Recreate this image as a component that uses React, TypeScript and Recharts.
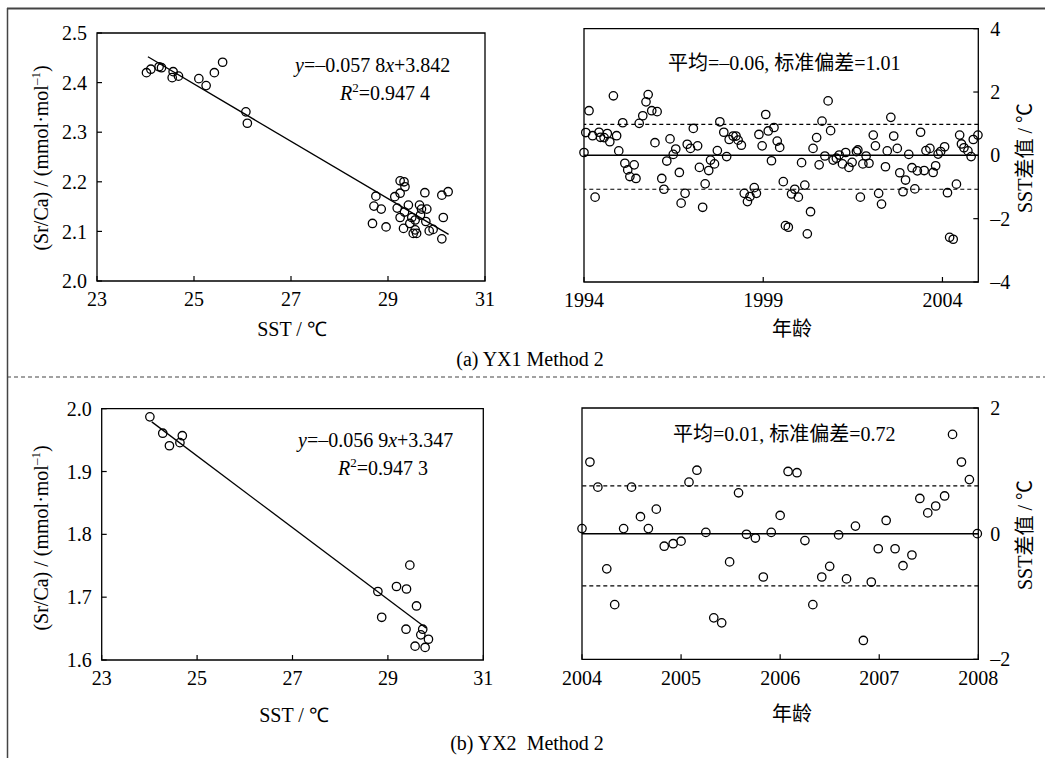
import React from 'react';
import { ScatterChart, Scatter, XAxis, YAxis, ReferenceLine, ReferenceArea } from 'recharts';

const FONT = "'Liberation Serif', 'Times New Roman', serif";
const CJK_FONT = "'Liberation Serif', 'Noto Sans CJK SC', serif";

// (a) YX1: Sr/Ca vs SST
const yx1Sst = [
  24.02, 24.11, 24.28, 24.33, 24.57, 24.55, 24.68, 25.1, 25.25, 25.42, 25.59, 26.07, 26.1,
  28.75, 28.71, 28.86, 28.68, 28.96, 29.14, 29.25, 29.33, 29.35, 29.19, 29.25, 29.34, 29.32,
  29.42, 29.45, 29.56, 29.56, 29.59, 29.65, 29.69, 29.76, 29.8, 29.78, 29.85, 29.93, 30.11,
  30.14, 30.11, 30.24, 29.67, 29.49, 29.52, 29.25,
];
const yx1SrCa = [
  2.42, 2.427, 2.432, 2.43, 2.422, 2.41, 2.413, 2.408, 2.394, 2.42, 2.441, 2.341, 2.318,
  2.171, 2.151, 2.145, 2.116, 2.109, 2.17, 2.202, 2.2, 2.19, 2.147, 2.128, 2.139, 2.106,
  2.153, 2.116, 2.123, 2.103, 2.096, 2.153, 2.145, 2.178, 2.145, 2.12, 2.101, 2.104, 2.173,
  2.128, 2.085, 2.18, 2.133, 2.128, 2.096, 2.177,
];
const yx1FitSst = [24.05, 30.25];
const yx1FitSrCa = [2.452, 2.094];

// (a) YX1: SST residuals by year
const yx1Years = [
  1994.0, 1994.05, 1994.14, 1994.24, 1994.31, 1994.42, 1994.46, 1994.56, 1994.65, 1994.72,
  1994.82, 1994.91, 1994.97, 1995.08, 1995.14, 1995.22, 1995.28, 1995.4, 1995.45, 1995.54,
  1995.64, 1995.73, 1995.79, 1995.89, 1996.04, 1995.98, 1996.17, 1996.23, 1996.31, 1996.4,
  1996.49, 1996.56, 1996.66, 1996.71, 1996.82, 1996.88, 1996.97, 1997.05, 1997.17, 1997.22,
  1997.31, 1997.38, 1997.48, 1997.53, 1997.64, 1997.72, 1997.79, 1997.9, 1997.98, 1998.05,
  1998.16, 1998.24, 1998.3, 1998.39, 1998.47, 1998.56, 1998.63, 1998.75, 1998.81, 1998.88,
  1998.97, 1999.07, 1999.14, 1999.23, 1999.3, 1999.39, 1999.46, 1999.56, 1999.62, 1999.7,
  1999.79, 1999.88, 1999.98, 2000.07, 2000.16, 2000.23, 2000.32, 2000.39, 2000.49, 2000.56,
  2000.64, 2000.72, 2000.81, 2000.88, 2000.95, 2001.04, 2001.12, 2001.21, 2001.3, 2001.39,
  2001.48, 2001.6, 2001.64, 2001.71, 2001.78, 2001.87, 2001.95, 2002.07, 2002.13, 2002.22,
  2002.3, 2002.41, 2002.46, 2002.56, 2002.64, 2002.74, 2002.81, 2002.9, 2002.97, 2003.06,
  2003.15, 2003.23, 2003.3, 2003.39, 2003.49, 2003.54, 2003.65, 2003.74, 2003.81, 2003.88,
  2003.95, 2004.06, 2004.14, 2004.2, 2004.3, 2004.39, 2004.48, 2004.53, 2004.6, 2004.71,
  2004.8, 2004.86, 2004.99,
];
const yx1SstDiff = [
  0.09, 0.72, 1.41, 0.62, -1.32, 0.73, 0.57, 0.56, 0.69, 0.43,
  1.88, 0.62, 0.14, 1.03, -0.25, -0.46, -0.67, -0.3, -0.73, 1.01,
  1.25, 1.69, 1.92, 1.41, 1.38, 0.4, -0.73, -1.07, -0.18, 0.52,
  0.03, 0.2, -0.54, -1.51, -1.2, 0.35, 0.22, 0.85, 0.3, -0.38,
  -1.64, -0.9, -0.48, -0.15, -0.27, 0.15, 1.06, 0.73, -0.04, 0.5,
  0.61, 0.61, 0.48, 0.32, -1.2, -1.46, -1.3, -1.02, -1.2, 0.66,
  0.3, 1.29, 0.77, -0.17, 0.88, 0.45, 0.25, -0.83, -2.22, -2.27,
  -1.22, -1.07, -1.32, -0.23, -0.94, -2.48, -1.78, 0.22, 0.56, -0.3,
  1.08, -0.02, 1.72, 0.78, -0.15, -0.09, 0.01, -0.27, 0.09, -0.38,
  -0.22, 0.12, 0.17, -1.32, -0.27, -0.02, -0.25, 0.64, 0.3, -1.2,
  -1.54, -0.36, 0.14, 1.2, 0.61, 0.22, -0.55, -1.15, -0.78, 0.03,
  -0.39, -1.06, -0.49, 0.73, -0.48, 0.15, 0.22, -0.54, -0.33, 0.04,
  0.12, 0.27, -1.18, -2.59, -2.65, -0.91, 0.64, 0.36, 0.24, 0.14,
  -0.04, 0.5, 0.64,
];
const yx1Bands = [0.98, -1.07];

// (b) YX2: Sr/Ca vs SST
const yx2Sst = [
  24.01, 24.28, 24.42, 24.64, 24.69, 28.79, 28.87, 29.18, 29.39, 29.46, 29.38, 29.6, 29.57,
  29.73, 29.69, 29.85, 29.78,
];
const yx2SrCa = [
  1.987, 1.961, 1.941, 1.946, 1.957, 1.709, 1.668, 1.717, 1.713, 1.751, 1.649, 1.686, 1.622,
  1.649, 1.64, 1.633, 1.62,
];
const yx2FitSst = [24.05, 29.8];
const yx2FitSrCa = [1.979, 1.651];

// (b) YX2: SST residuals by year
const yx2Years = [
  2004.0, 2004.08, 2004.16, 2004.25, 2004.33, 2004.42, 2004.5, 2004.59, 2004.67, 2004.75,
  2004.83, 2004.92, 2005.0, 2005.08, 2005.16, 2005.25, 2005.33, 2005.41, 2005.49, 2005.58,
  2005.66, 2005.75, 2005.83, 2005.91, 2006.0, 2006.08, 2006.17, 2006.25, 2006.33, 2006.42,
  2006.5, 2006.59, 2006.67, 2006.76, 2006.84, 2006.92, 2006.99, 2007.07, 2007.16, 2007.24,
  2007.33, 2007.41, 2007.49, 2007.57, 2007.66, 2007.74, 2007.83, 2007.91, 2007.99,
];
const yx2SstDiff = [
  0.08, 1.14, 0.74, -0.56, -1.13, 0.08, 0.74, 0.27, 0.08, 0.39,
  -0.2, -0.16, -0.12, 0.82, 1.01, 0.02, -1.34, -1.42, -0.45, 0.65,
  -0.01, -0.07, -0.69, 0.02, 0.29, 0.99, 0.97, -0.11, -1.13, -0.69,
  -0.52, -0.02, -0.72, 0.12, -1.7, -0.77, -0.24, 0.21, -0.24, -0.51,
  -0.34, 0.56, 0.33, 0.44, 0.6, 1.58, 1.14, 0.86, 0.0,
];
const yx2Bands = [0.76, -0.83];

const sstTicks = [23, 25, 27, 29, 31];
const yx1SrCaTicks = [2.0, 2.1, 2.2, 2.3, 2.4, 2.5];
const yx2SrCaTicks = [1.6, 1.7, 1.8, 1.9, 2.0];
const yx1YearTicks = [1994, 1999, 2004];
const yx1DiffTicks = [-4, -2, 0, 2, 4];
const yx2YearTicks = [2004, 2005, 2006, 2007, 2008];
const yx2DiffTicks = [-2, 0, 2];

type Pt = { x: number; y: number };
const zip = (xs: number[], ys: number[]): Pt[] => xs.map((x, i) => ({ x, y: ys[i] }));

const tickStyle = { fill: '#000', fontSize: 20, fontFamily: FONT };
const signed = (v: number): string => (v < 0 ? `\u2013${Math.abs(v)}` : `${v}`);

function OpenCircle(props: any) {
  const { cx, cy } = props;
  if (cx == null || cy == null) return <g />;
  return <circle cx={cx} cy={cy} r={4.2} fill="none" stroke="#000" strokeWidth={1.3} />;
}
const NoDot = () => <g />;

interface CalibProps {
  left: number;
  top: number;
  margin: { top: number; right: number; bottom: number; left: number };
  points: Pt[];
  fit: Pt[];
  yDomain: [number, number];
  yTicks: number[];
}

function CalibrationChart({ left, top, margin, points, fit, yDomain, yTicks }: CalibProps) {
  return (
    <div style={{ position: 'absolute', left, top, fontFamily: FONT }}>
      <ScatterChart width={520} height={340} margin={margin}>
        <XAxis
          type="number"
          dataKey="x"
          domain={[23, 31]}
          ticks={sstTicks}
          height={30}
          axisLine={false}
          tickLine={{ stroke: '#000', strokeWidth: 1.2 }}
          tickSize={-5}
          tickMargin={16}
          tick={tickStyle}
        />
        <YAxis
          type="number"
          dataKey="y"
          domain={yDomain}
          ticks={yTicks}
          width={50}
          axisLine={false}
          tickLine={{ stroke: '#000', strokeWidth: 1.2 }}
          tickSize={-5}
          tickMargin={15}
          tick={tickStyle}
          tickFormatter={(v: number) => v.toFixed(1)}
        />
        <ReferenceArea
          x1={23}
          x2={31}
          y1={yDomain[0]}
          y2={yDomain[1]}
          fill="none"
          stroke="#000"
          strokeWidth={1.3}
        />
        <Scatter data={points} shape={OpenCircle} isAnimationActive={false} />
        <Scatter
          data={fit}
          line={{ stroke: '#000', strokeWidth: 1.3 }}
          shape={NoDot}
          isAnimationActive={false}
        />
      </ScatterChart>
    </div>
  );
}

interface ResidProps {
  left: number;
  top: number;
  margin: { top: number; right: number; bottom: number; left: number };
  points: Pt[];
  xDomain: [number, number];
  xTicks: number[];
  yDomain: [number, number];
  yTicks: number[];
  bands: number[];
}

function ResidualChart({ left, top, margin, points, xDomain, xTicks, yDomain, yTicks, bands }: ResidProps) {
  return (
    <div style={{ position: 'absolute', left, top, fontFamily: FONT }}>
      <ScatterChart width={525} height={340} margin={margin}>
        <XAxis
          type="number"
          dataKey="x"
          domain={xDomain}
          ticks={xTicks}
          height={30}
          axisLine={false}
          tickLine={{ stroke: '#000', strokeWidth: 1.2 }}
          tickSize={-5}
          tickMargin={16}
          tick={tickStyle}
        />
        <YAxis
          type="number"
          dataKey="y"
          orientation="right"
          domain={yDomain}
          ticks={yTicks}
          width={40}
          axisLine={false}
          tickLine={{ stroke: '#000', strokeWidth: 1.2 }}
          tickSize={-5}
          tickMargin={17}
          tick={tickStyle}
          tickFormatter={signed}
        />
        <ReferenceArea
          x1={xDomain[0]}
          x2={xDomain[1]}
          y1={yDomain[0]}
          y2={yDomain[1]}
          fill="none"
          stroke="#000"
          strokeWidth={1.3}
        />
        <ReferenceLine y={0} stroke="#000" strokeWidth={1.5} />
        {bands.map((b) => (
          <ReferenceLine key={b} y={b} stroke="#000" strokeWidth={1.2} strokeDasharray="4 3" />
        ))}
        <Scatter data={points} shape={OpenCircle} isAnimationActive={false} />
      </ScatterChart>
    </div>
  );
}

function SrCaTitle({ x, y }: { x: number; y: number }) {
  return (
    <text x={x} y={y} transform={`rotate(-90 ${x} ${y})`} textAnchor="middle" fontSize={20} fontFamily={FONT}>
      (Sr/Ca) / (mmol·mol
      <tspan dy={-8} fontSize={13}>
        {'\u20131'}
      </tspan>
      <tspan dy={8}>)</tspan>
    </text>
  );
}

function Equation({ x, y, slope, intercept }: { x: number; y: number; slope: string; intercept: string }) {
  return (
    <text x={x} y={y} fontSize={20} fontFamily={FONT}>
      <tspan fontStyle="italic">y</tspan>={'\u2013'}
      {slope}
      <tspan fontStyle="italic">x</tspan>+{intercept}
    </text>
  );
}

function RSquared({ x, y, value }: { x: number; y: number; value: string }) {
  return (
    <text x={x} y={y} fontSize={20} fontFamily={FONT}>
      <tspan fontStyle="italic">R</tspan>
      <tspan dy={-8} fontSize={13}>
        2
      </tspan>
      <tspan dy={8}>={value}</tspan>
    </text>
  );
}

function DiffTitle({ x, y }: { x: number; y: number }) {
  return (
    <text x={x} y={y} transform={`rotate(-90 ${x} ${y})`} textAnchor="middle" fontSize={20} fontFamily={CJK_FONT}>
      SST差值 / ℃
    </text>
  );
}

export default function App() {
  return (
    <div
      style={{
        position: 'absolute',
        left: 0,
        top: 0,
        width: 1045,
        height: 758,
        background: '#fff',
        overflow: 'hidden',
        fontFamily: FONT,
      }}
    >
      <CalibrationChart
        left={0}
        top={0}
        margin={{ top: 33, right: 35, bottom: 29, left: 47 }}
        points={zip(yx1Sst, yx1SrCa)}
        fit={zip(yx1FitSst, yx1FitSrCa)}
        yDomain={[2.0, 2.5]}
        yTicks={yx1SrCaTicks}
      />
      <ResidualChart
        left={520}
        top={0}
        margin={{ top: 28.7, right: 26.7, bottom: 28, left: 64 }}
        points={zip(yx1Years, yx1SstDiff)}
        xDomain={[1994, 2005]}
        xTicks={yx1YearTicks}
        yDomain={[-4, 4]}
        yTicks={yx1DiffTicks}
        bands={yx1Bands}
      />
      <CalibrationChart
        left={0}
        top={380}
        margin={{ top: 28.7, right: 36.7, bottom: 30, left: 51.7 }}
        points={zip(yx2Sst, yx2SrCa)}
        fit={zip(yx2FitSst, yx2FitSrCa)}
        yDomain={[1.6, 2.0]}
        yTicks={yx2SrCaTicks}
      />
      <ResidualChart
        left={520}
        top={380}
        margin={{ top: 28, right: 26.7, bottom: 30.7, left: 62 }}
        points={zip(yx2Years, yx2SstDiff)}
        xDomain={[2004, 2008]}
        xTicks={yx2YearTicks}
        yDomain={[-2, 2]}
        yTicks={yx2DiffTicks}
        bands={yx2Bands}
      />
      <svg width={1045} height={758} style={{ position: 'absolute', left: 0, top: 0, pointerEvents: 'none' }}>
        <line x1={7} y1={8.5} x2={1045} y2={8.5} stroke="#444" strokeWidth={1.8} />
        <line x1={7.5} y1={8} x2={7.5} y2={758} stroke="#444" strokeWidth={1.5} />
        <line x1={7} y1={377} x2={1045} y2={377} stroke="#444" strokeWidth={1.2} strokeDasharray="4 3" />

        <SrCaTitle x={48} y={158} />
        <text x={292} y={336} textAnchor="middle" fontSize={20} fontFamily={FONT}>SST / ℃</text>
        <Equation x={295} y={71.5} slope="0.057 8" intercept="3.842" />
        <RSquared x={340} y={99.5} value="0.947 4" />

        <text x={668} y={70} fontSize={20} fontFamily={CJK_FONT}>平均={'\u2013'}0.06, 标准偏差=1.01</text>
        <DiffTitle x={1032} y={158} />
        <text x={792} y={336} textAnchor="middle" fontSize={20} fontFamily={CJK_FONT}>年龄</text>

        <text x={530} y={366} textAnchor="middle" fontSize={20} fontFamily={FONT}>(a) YX1 Method 2</text>

        <SrCaTitle x={48} y={538} />
        <text x={294} y={722} textAnchor="middle" fontSize={20} fontFamily={FONT}>SST / ℃</text>
        <Equation x={298} y={446.5} slope="0.056 9" intercept="3.347" />
        <RSquared x={338} y={475} value="0.947 3" />

        <text x={673} y={441} fontSize={20} fontFamily={CJK_FONT}>平均=0.01, 标准偏差=0.72</text>
        <DiffTitle x={1032} y={535} />
        <text x={792} y={721} textAnchor="middle" fontSize={20} fontFamily={CJK_FONT}>年龄</text>

        <text x={527} y={750} textAnchor="middle" fontSize={20} fontFamily={FONT} style={{ whiteSpace: 'pre' }}>
          (b) YX2{'\u00a0\u00a0'}Method 2
        </text>
      </svg>
    </div>
  );
}
